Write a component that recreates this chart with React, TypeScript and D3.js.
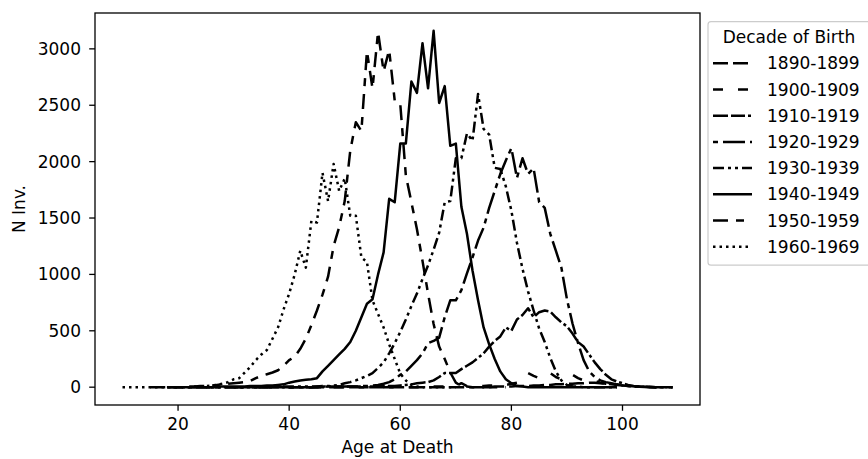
import React from 'react';
import * as d3 from 'd3';

// Decade-of-birth cohorts (legend order)
const cohorts = ['1890-1899', '1900-1909', '1910-1919', '1920-1929', '1930-1939', '1940-1949', '1950-1959', '1960-1969'];

// Each cohort: first age and number of inventors at each successive integer age at death
const start1890 = 40;
const n1890 = [
  0, 0, 0, 0, 0, 0, 0, 0, 0, 0,
  0, 0, 0, 0, 0, 0, 0, 0, 0, 0,
  0, 0, 0, 0, 0, 0, 0, 0, 0, 0,
  0, 0, 0, 0, 0, 0, 0, 5, 5, 5,
  5, 10, 10, 10, 15, 15, 20, 20, 25, 25,
  30, 30, 35, 35, 40, 40, 35, 30, 25, 20,
  15, 10, 8, 5, 3, 2, 0, 0, 0, 0,
];

const start1900 = 30;
const n1900 = [
  0, 0, 0, 0, 0, 0, 0, 0, 0, 0,
  0, 0, 0, 0, 0, 0, 0, 0, 0, 0,
  0, 0, 0, 0, 0, 0, 0, 0, 0, 0,
  0, 0, 0, 0, 0, 5, 5, 5, 5, 5,
  10, 35, 10, 10, 10, 10, 15, 15, 20, 20,
  30, 40, 70, 125, 100, 80, 100, 125, 90, 70,
  80, 110, 80, 60, 50, 55, 40, 30, 25, 20,
  15, 10, 8, 5, 3, 2, 0, 0, 0, 0,
];

const start1910 = 25;
const n1910 = [
  0, 0, 0, 0, 0,
  0, 0, 0, 0, 0, 0, 0, 0, 0, 0,
  0, 0, 0, 0, 0, 5, 5, 5, 5, 5,
  5, 5, 5, 5, 5, 5, 5, 10, 10, 10,
  15, 20, 25, 35, 40, 45, 60, 90, 125, 125,
  125, 160, 190, 220, 260, 300, 360, 410, 450, 530,
  500, 600, 640, 700, 620, 665, 680, 670, 620, 575,
  540, 475, 400, 360, 290, 220, 160, 110, 70, 50,
  35, 20, 10, 5, 3, 2, 0, 0, 0, 0,
];

const start1920 = 20;
const n1920 = [
  0, 0, 0, 0, 0, 0, 0, 0, 0, 0,
  0, 0, 0, 0, 0, 0, 0, 0, 0, 0,
  0, 0, 0, 0, 0, 0, 0, 5, 5, 5,
  5, 5, 5, 10, 10, 15, 20, 30, 45, 70,
  110, 140, 190, 240, 300, 390, 410, 440, 620, 770,
  770, 860, 1010, 1150, 1300, 1415, 1590, 1740, 1890, 2010,
  2120, 1855, 2030, 1890, 1940, 1640, 1590, 1360, 1210, 1060,
  780, 565, 390, 240, 140, 90, 60, 45, 35, 25,
  20, 10, 5, 3, 2, 0, 0, 0, 0, 0,
];

const start1930 = 18;
const n1930 = [
  0, 0,
  0, 0, 0, 0, 0, 0, 0, 0, 0, 0,
  0, 0, 0, 0, 0, 0, 0, 0, 5, 5,
  5, 5, 5, 5, 5, 5, 10, 10, 15, 20,
  35, 45, 60, 80, 100, 125, 170, 220, 300, 390,
  490, 600, 720, 830, 960, 1080, 1220, 1370, 1640, 1650,
  2030, 2030, 2250, 2185, 2600, 2290, 2240, 1945, 1935, 1780,
  1565, 1280, 1050, 850, 680, 520, 400, 260, 140, 60,
  20, 8, 5, 0, 0, 0, 0, 0, 0, 0,
];

const start1940 = 18;
const n1940 = [
  0, 0,
  0, 0, 0, 0, 0, 0, 0, 5, 5, 5,
  5, 5, 5, 10, 10, 10, 15, 15, 20, 25,
  40, 50, 60, 65, 70, 80, 140, 190, 240, 290,
  340, 400, 500, 620, 740, 780, 1000, 1195, 1670, 1640,
  2160, 2160, 2710, 2610, 3050, 2650, 3160, 2520, 2670, 2140,
  2160, 1600, 1360, 1035, 770, 530, 380, 250, 140, 70,
  35, 10, 5, 0, 0, 0, 0, 0, 0, 0,
  0, 0, 0, 0, 0, 0, 0, 0, 0, 0,
];

const start1950 = 15;
const n1950 = [
  0, 0, 0, 0, 0,
  0, 0, 5, 5, 10, 10, 15, 20, 25, 30,
  35, 40, 45, 55, 80, 100, 115, 130, 150, 190,
  240, 270, 340, 430, 550, 680, 820, 980, 1250, 1420,
  1650, 2100, 2350, 2270, 2980, 2650, 3150, 2800, 2990, 2540,
  2510, 1880, 1640, 1400, 1120, 830, 560, 360, 250, 130,
  40, 10, 5, 0, 0, 0, 0, 0, 0, 0,
];

const start1960 = 10;
const n1960 = [
  0, 0, 0, 0, 0, 0, 0, 0, 0, 0,
  0, 0, 0, 5, 5, 10, 15, 20, 30, 45,
  70, 80, 130, 180, 240, 290, 330, 430, 530, 690,
  830, 1000, 1210, 1060, 1475, 1460, 1900, 1650, 1980, 1740,
  1850, 1520, 1520, 1150, 1110, 770, 650, 530, 380, 250,
  120, 60, 20, 5, 0, 0, 0, 0, 0, 0,
  0,
];

const starts = [start1890, start1900, start1910, start1920, start1930, start1940, start1950, start1960];
const values = [n1890, n1900, n1910, n1920, n1930, n1940, n1950, n1960];

// line dash patterns (px) per cohort
const dashes = ['15,5', '10,15', '15,3,14,3,3,3', '5,5,22,5', '11,4,3,4,3,4', '', '15,8,8,8', '2.5,4'];

const xTicks = [20, 40, 60, 80, 100];
const yTicks = [0, 500, 1000, 1500, 2000, 2500, 3000];

const W = 868;
const H = 459;
const L = 95, R = 700, T = 13, B = 405;
const FONT = 'DejaVu Sans, sans-serif';
const FS = 17;
const LW = 2.5;

export default function App() {
  const series = cohorts.map((c, i) => ({
    name: c,
    dash: dashes[i],
    pts: values[i].map((v, j) => [starts[i] + j, v] as [number, number]),
  }));
  const allX = series.flatMap(s => s.pts.map(p => p[0]));
  const allY = series.flatMap(s => s.pts.map(p => p[1]));
  const [x0, x1] = d3.extent(allX) as [number, number];
  const [y0, y1] = d3.extent(allY) as [number, number];
  const px = (x1 - x0) * 0.05;
  const py = (y1 - y0) * 0.05;
  const x = d3.scaleLinear().domain([x0 - px, x1 + px]).range([L, R]);
  const y = d3.scaleLinear().domain([y0 - py, y1 + py]).range([B, T]);
  const line = d3.line<[number, number]>().x(d => x(d[0])).y(d => y(d[1]));

  const legX = 708, legY = 21.7;
  const rowY = (i: number) => 63.3 + i * 26.2;

  return (
    <svg width={W} height={H} style={{ position: 'absolute', left: 0, top: 0, background: '#fff' }} fontFamily={FONT}>
      <rect x={0} y={0} width={W} height={H} fill="#fff" />
      <defs>
        <clipPath id="plot">
          <rect x={L} y={T} width={R - L} height={B - T} />
        </clipPath>
      </defs>
      <g clipPath="url(#plot)">
        {series.map(s => (
          <path key={s.name} d={line(s.pts) || ''} fill="none" stroke="#000" strokeWidth={LW}
            strokeDasharray={s.dash || undefined} strokeLinejoin="round" strokeLinecap="butt" />
        ))}
      </g>
      <rect x={L} y={T} width={R - L} height={B - T} fill="none" stroke="#000" strokeWidth={1.3} />
      {xTicks.map(t => (
        <g key={t}>
          <line x1={x(t)} x2={x(t)} y1={B} y2={B + 5.8} stroke="#000" strokeWidth={1.3} />
          <text x={x(t)} y={429.5} textAnchor="middle" fontSize={FS} fill="#000">{t}</text>
        </g>
      ))}
      {yTicks.map(t => (
        <g key={t}>
          <line x1={L - 5.8} x2={L} y1={y(t)} y2={y(t)} stroke="#000" strokeWidth={1.3} />
          <text x={81} y={y(t) + 6} textAnchor="end" fontSize={FS} fill="#000">{t}</text>
        </g>
      ))}
      <text x={(L + R) / 2} y={452.5} textAnchor="middle" fontSize={FS} fill="#000">Age at Death</text>
      <text transform={`translate(24.5, ${(T + B) / 2}) rotate(-90)`} textAnchor="middle" fontSize={FS} fill="#000">N Inv.</text>

      <rect x={legX} y={legY} width={170} height={243.5} rx={3} fill="#fff" fillOpacity={0.8} stroke="#cccccc" strokeWidth={1.2} />
      <text x={789} y={43} textAnchor="middle" fontSize={FS} fill="#000">Decade of Birth</text>
      {series.map((s, i) => (
        <g key={s.name}>
          <line x1={713} x2={752} y1={rowY(i)} y2={rowY(i)} stroke="#000" strokeWidth={LW}
            strokeDasharray={s.dash || undefined} strokeLinecap="butt" />
          <text x={767} y={rowY(i) + 6} fontSize={FS} fill="#000">{s.name}</text>
        </g>
      ))}
    </svg>
  );
}
